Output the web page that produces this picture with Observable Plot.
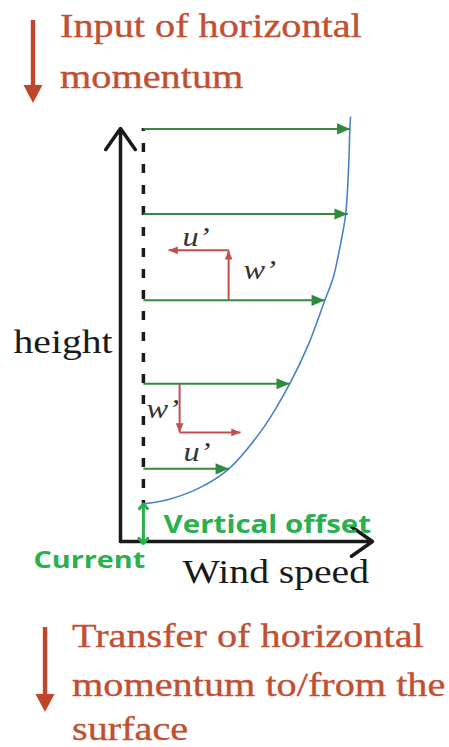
<!DOCTYPE html>
<html>
<head>
<meta charset="utf-8">
<script src="https://cdn.jsdelivr.net/npm/d3@7"></script>
<script src="https://cdn.jsdelivr.net/npm/@observablehq/plot@0.6"></script>
<style>
  html, body { margin: 0; padding: 0; background: #fff; }
  #page { position: relative; width: 449px; height: 747px; overflow: hidden; }
  svg { display: block; }
</style>
</head>
<body>
<div id="page">
  <div id="header"></div>
  <div id="chart"></div>
  <div id="footer"></div>
</div>
<script>
// ---- text ----
const headerLines = ["Input of horizontal", "momentum"];
const footerLines = ["Transfer of horizontal", "momentum to/from the", "surface"];

// ---- wind profile (speed relative to current, height) ----
const profileSpeed  = [0.02, 1.18, 2.49, 3.73, 5.26, 6.39, 7.22, 7.92, 8.29, 8.61, 8.83, 8.97, 9.01, 9.04];
const profileHeight = [0.91, 1.03, 1.31, 1.76, 2.77, 3.82, 4.79, 5.84, 6.40, 7.22, 7.93, 9.23, 9.99, 10.27];

// ---- mean wind arrows ----
const windHeights = [1.76, 3.82, 5.84, 7.93, 9.99];
const windSpeeds  = [3.73, 6.39, 7.92, 8.92, 9.03];

// ---- turbulent perturbation segments (u', w') ----
const pertX1 = [3.72, 3.72, 1.58, 1.58];
const pertY1 = [5.84, 7.05, 3.82, 2.64];
const pertX2 = [3.72, 1.10, 1.58, 4.24];
const pertY2 = [7.05, 7.05, 2.64, 2.64];

// ---- vertical offset of profile above the surface current ----
const currentSpeed = 0;
const surfaceHeight = 0;
const profileBottom = 0.91;
const axisTop = 10;
const axisRight = 10;
const axisLeft = -1;

// ---- labels ----
const serifLabels = [
  {text: "height", x: -1.35, y: 4.81, anchor: "end"},
  {text: "Wind speed", x: 1.71, y: -0.74, anchor: "start"}
];
const primeLabels = [
  {text: "u\u2019", x: 1.71, y: 7.37},
  {text: "w\u2019", x: 4.37, y: 6.57},
  {text: "w\u2019", x: 0.14, y: 3.20},
  {text: "u\u2019", x: 1.75, y: 2.16}
];
const offsetLabel = [{text: "Vertical offset", x: 0.88, y: 0.39}];
const currentLabel = [{text: "Current", x: -4.8, y: -0.46}];

const RED_TEXT = "#c24f31", RED_ARROW = "#c0452a";
const GREEN = "#338a3e", RED = "#c0504d", BRIGHT = "#2bb04f", INK = "#1a1a1a";

// ---- header / footer (arrow + serif text) ----
function banner(sel, h, lines, opt) {
  const svg = d3.select(sel).append("svg").attr("width", 449).attr("height", h);
  svg.append("rect").attr("x", opt.ax - 2.2).attr("y", opt.a0).attr("width", 4.4).attr("height", opt.a1 - opt.a0 - 14).attr("fill", RED_ARROW);
  svg.append("path").attr("d", `M${opt.ax - 9.5},${opt.a1 - 18} L${opt.ax + 9.5},${opt.a1 - 18} L${opt.ax},${opt.a1} Z`).attr("fill", RED_ARROW);
  lines.forEach((t, i) => {
    svg.append("text")
      .attr("transform", `translate(${opt.tx},${opt.base[i]}) scale(${opt.sx},1)`)
      .attr("font-family", "Liberation Serif")
      .attr("font-size", opt.fs)
      .attr("fill", RED_TEXT)
      .attr("stroke", RED_TEXT)
      .attr("stroke-width", 0.35)
      .text(t);
  });
}
banner("#header", 105, headerLines, {ax: 33, a0: 20, a1: 103, tx: 60, base: [37, 88], fs: 33, sx: 1.22});

const profile = profileSpeed.map((s, i) => ({speed: s, height: profileHeight[i]}));
const winds = windHeights.map((h, i) => ({h, u: windSpeeds[i]}));
const perts = pertX1.map((x1, i) => ({x1, y1: pertY1[i], x2: pertX2[i], y2: pertY2[i]}));
const dirAngle = d => d.x2 > d.x1 ? 90 : d.x2 < d.x1 ? -90 : d.y2 > d.y1 ? 0 : 180;

// arrowhead symbol: tip at origin, pointing up
const headSymbol = {
  draw(ctx, size) {
    const L = Math.sqrt(size);
    ctx.moveTo(0, 0);
    ctx.lineTo(-0.42 * L, L);
    ctx.lineTo(0.42 * L, L);
    ctx.closePath();
  }
};

const axes = [
  {x1: axisLeft, y1: surfaceHeight, x2: axisLeft, y2: axisTop},
  {x1: axisLeft, y1: surfaceHeight, x2: axisRight, y2: surfaceHeight}
];
const offsetMid = (profileBottom + surfaceHeight) / 2;
const offsetArrows = [
  {x1: currentSpeed, y1: offsetMid, x2: currentSpeed, y2: profileBottom},
  {x1: currentSpeed, y1: offsetMid, x2: currentSpeed, y2: surfaceHeight - 0.05}
];

const chart = Plot.plot({
  width: 449,
  height: 505,
  marginLeft: 120,
  marginRight: 77,
  marginTop: 23,
  marginBottom: 69,
  x: {domain: [-1, 10], axis: null},
  y: {domain: [0, 10], axis: null},
  marks: [
    Plot.ruleX([currentSpeed], {y1: axisTop, y2: profileBottom, stroke: INK, strokeWidth: 3.5, strokeDasharray: "3,12,9,12,9,12,9,12,9,12,9,12,9,12,9,12,9,12,9,12,9,12,9,12,9,12,9,12,9,12,9,12,9,12,9,12,9,12,9,12"}),
    Plot.arrow(axes, {x1: "x1", y1: "y1", x2: "x2", y2: "y2", stroke: INK, strokeWidth: 3.5, headLength: 11, headAngle: 70}),
    Plot.line(profile, {x: "speed", y: "height", curve: "catmull-rom", stroke: "#4a80cc", strokeWidth: 1.6}),
    Plot.link(winds, {x1: currentSpeed, y1: "h", x2: "u", y2: "h", stroke: GREEN, strokeWidth: 2}),
    Plot.dot(winds, {x: "u", y: "h", symbol: headSymbol, r: 7.5, rotate: 90, fill: GREEN, stroke: "none"}),
    Plot.link(perts, {x1: "x1", y1: "y1", x2: "x2", y2: "y2", stroke: RED, strokeWidth: 2}),
    Plot.dot(perts, {x: "x2", y: "y2", symbol: headSymbol, r: 5.2, rotate: dirAngle, fill: RED, stroke: "none"}),
    Plot.arrow(offsetArrows, {x1: "x1", y1: "y1", x2: "x2", y2: "y2", stroke: BRIGHT, strokeWidth: 3, headLength: 13, headAngle: 80}),
    Plot.text(serifLabels, {x: "x", y: "y", text: "text", textAnchor: "end", filter: d => d.anchor === "end", fontFamily: "Liberation Serif", fontSize: 33, fill: INK}),
    Plot.text(serifLabels, {x: "x", y: "y", text: "text", textAnchor: "start", filter: d => d.anchor === "start", fontFamily: "Liberation Serif", fontSize: 33, fill: INK}),
    Plot.text(primeLabels, {x: "x", y: "y", text: "text", textAnchor: "start", fontFamily: "Liberation Serif", fontStyle: "italic", fontSize: 27, fill: "#333"}),
    Plot.text(offsetLabel, {x: "x", y: "y", text: "text", textAnchor: "start", fontFamily: "Open Sans", fontWeight: "bold", fontSize: 24.6, fill: BRIGHT}),
    Plot.text(currentLabel, {x: "x", y: "y", text: "text", textAnchor: "start", fontFamily: "Open Sans", fontWeight: "bold", fontSize: 24, fill: BRIGHT})
  ]
});

// emulate the horizontally stretched lettering of the original figure
d3.select(chart).selectAll("text").each(function() {
  const t = this.getAttribute("transform");
  if (t) {
    this.setAttribute("transform", t + " scale(1.2,1)");
  } else {
    const x = this.getAttribute("x") || 0, y = this.getAttribute("y") || 0;
    this.setAttribute("transform", `translate(${x},${y}) scale(1.2,1)`);
    this.removeAttribute("x"); this.removeAttribute("y");
  }
});

document.getElementById("chart").appendChild(chart);

banner("#footer", 137, footerLines, {ax: 45, a0: 17, a1: 102, tx: 72, base: [37, 86, 130], fs: 33, sx: 1.22});
</script>
</body>
</html>
